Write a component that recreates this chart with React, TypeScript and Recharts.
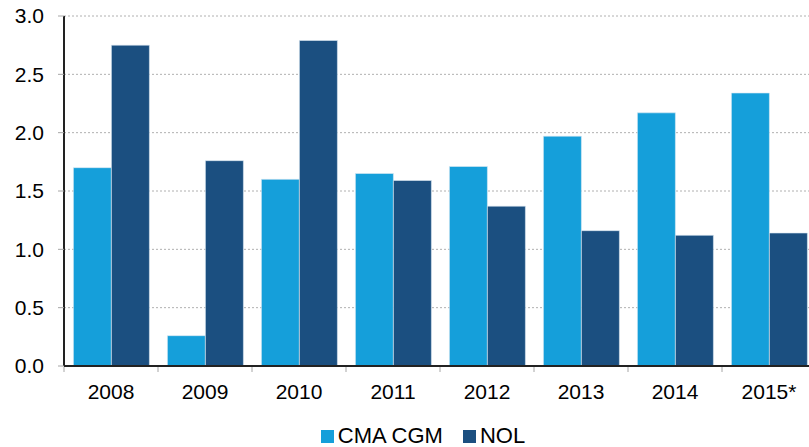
import React from 'react';
import { BarChart, Bar, XAxis, YAxis, CartesianGrid, Legend } from 'recharts';

const years = ['2008', '2009', '2010', '2011', '2012', '2013', '2014', '2015*'];
const cmaCgm = [1.7, 0.26, 1.6, 1.65, 1.71, 1.97, 2.17, 2.34];
const nol = [2.75, 1.76, 2.79, 1.59, 1.37, 1.16, 1.12, 1.14];
const yTicks = [0, 0.5, 1, 1.5, 2, 2.5, 3];

const LIGHT = '#159FDA';
const DARK = '#1B4F80';
const FONT = 'Liberation Sans, Arial, sans-serif';

const data = years.map((y, i) => ({ year: y, cma: cmaCgm[i], nol: nol[i] }));

const XTick = (props: any) => {
  const { x, y, payload } = props;
  const off = payload.offset ?? 0;
  return (
    <g>
      <line x1={x - off} x2={x - off} y1={y + 1} y2={y + 6} stroke="#a6a6a6" strokeWidth={1} />
      <text x={x} y={y + 33} textAnchor="middle" fontSize={21} fontFamily={FONT} fill="#000">
        {payload.value}
      </text>
    </g>
  );
};

const LegendContent = () => (
  <div
    style={{
      display: 'flex',
      justifyContent: 'center',
      alignItems: 'center',
      height: 26,
      paddingTop: 3,
      paddingLeft: 30,
      boxSizing: 'border-box',
      fontFamily: FONT,
      fontSize: 22,
      lineHeight: '22px',
      color: '#000',
    }}
  >
    <span style={{ display: 'inline-block', width: 13, height: 13, background: LIGHT, marginRight: 4, marginTop: 1 }} />
    <span style={{ marginRight: 20 }}>CMA CGM</span>
    <span style={{ display: 'inline-block', width: 13, height: 13, background: DARK, marginRight: 4, marginTop: 1 }} />
    <span>NOL</span>
  </div>
);

export default function App() {
  return (
    <div style={{ position: 'absolute', left: 0, top: 0, width: 809, height: 447, overflow: 'hidden', background: '#fff' }}>
      <BarChart
        width={816}
        height={447}
        data={data}
        margin={{ top: 16, right: 0, left: 0, bottom: 0 }}
        barCategoryGap="10%"
        barGap={0}
      >
        <CartesianGrid vertical={false} stroke="#b0b0b0" strokeDasharray="2 2" />
        <XAxis
          dataKey="year"
          height={55}
          axisLine={{ stroke: '#222', strokeWidth: 2 }}
          tickLine={false}
          tickSize={0}
          tickMargin={0}
          tick={<XTick />}
          interval={0}
        />
        <YAxis
          width={64}
          domain={[0, 3]}
          ticks={yTicks}
          tickFormatter={(v: number) => v.toFixed(1)}
          axisLine={{ stroke: '#222', strokeWidth: 2 }}
          tickLine={{ stroke: '#a6a6a6' }}
          tickSize={6}
          tickMargin={14}
          tick={{ fontSize: 21, fontFamily: FONT, fill: '#000' }}
        />
        <Legend verticalAlign="bottom" height={26} content={<LegendContent />} />
        <Bar dataKey="cma" name="CMA CGM" fill={LIGHT} stroke="#dbe9f3" strokeWidth={0.6} isAnimationActive={false} />
        <Bar dataKey="nol" name="NOL" fill={DARK} stroke="#dbe9f3" strokeWidth={0.6} isAnimationActive={false} />
      </BarChart>
    </div>
  );
}
